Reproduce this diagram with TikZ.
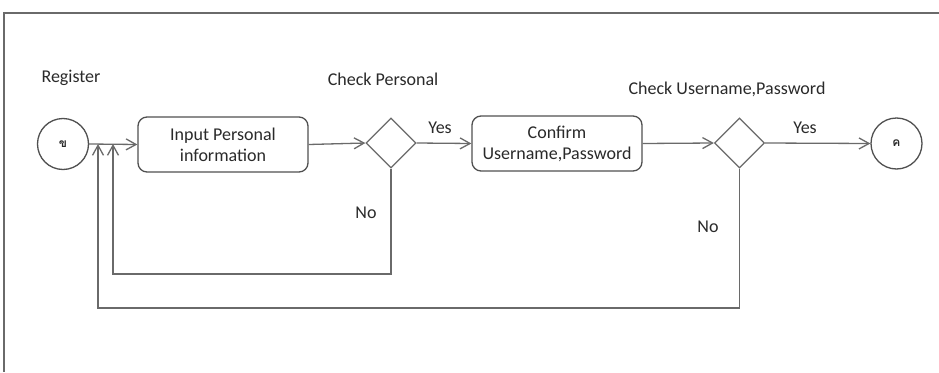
\documentclass[tikz,border=0pt]{standalone}
\usepackage{fontspec}
\setmainfont{Carlito}
\newfontfamily\thaifont[Script=Thai]{Loma}
\usetikzlibrary{shapes.geometric,arrows.meta}
\definecolor{ln}{HTML}{6A6A6A}
\definecolor{bx}{HTML}{505050}
\definecolor{tx}{HTML}{2A2A2A}
\tikzset{
  lbl/.style={font=\fontsize{18}{21}\selectfont, text=tx, inner sep=0pt},
  conn/.style={circle, draw=bx, line width=1.3pt, minimum size=51pt, inner sep=0pt, font=\thaifont\bfseries\fontsize{12}{13}\selectfont, text=tx},
  actbox/.style={rectangle, rounded corners=9pt, draw=bx, line width=1.3pt, align=center, font=\fontsize{18}{21}\selectfont, text=tx, inner sep=0pt},
  dec/.style={diamond, draw=ln, line width=1.3pt, minimum width=50pt, minimum height=50pt, inner sep=0pt, aspect=1},
  wire/.style={draw=ln, line width=1.3pt},
  arr/.style={wire, -{Straight Barb[length=10pt,width=11pt,line width=1.3pt]}}
}
\begin{document}
\begin{tikzpicture}[x=1pt,y=-1pt]
\useasboundingbox (0,0) rectangle (939,372);
\fill[white] (0,0) rectangle (939,372);
% frame
\draw[draw=ln, line width=1.3pt] (939,13) -- (4,13) -- (4,372);
% nodes
\node[conn] (c1) at (63,144) {ข};
\node[actbox, minimum width=170pt, minimum height=55pt] (b1) at (223,144.5) {Input Personal\\information};
\node[dec] (d1) at (391,143) {};
\node[actbox, minimum width=170pt, minimum height=55pt] (b2) at (557,143.5) {Confirm\\Username,Password};
\node[dec] (d2) at (739.5,143) {};
\node[conn] (c2) at (896.5,143.5) {ค};
% labels
\node[lbl] (l1) at (71,78) {Register};
\node[lbl] (l2) at (383,79) {Check Personal};
\node[lbl] (l3) at (727,89) {Check Username,Password};
\node[lbl] (y1) at (440,128) {Yes};
\node[lbl] (y2) at (805,128) {Yes};
\node[lbl] (n1) at (366,213) {No};
\node[lbl] (n2) at (708,227) {No};
% junctions
\coordinate (j1) at (113,144);
\coordinate (j2) at (98,144);
% connectors
\draw[arr] (c1.east) -- (b1.west);
\draw[arr] (b1.east) -- (d1.west);
\draw[arr] (d1.east) -- (b2.west);
\draw[arr] (b2.east) -- (d2.west);
\draw[arr] (d2.east) -- (c2.west);
\draw[arr] (d1.south) |- (113,274) -- (j1);
\draw[arr] (d2.south) |- (98,308) -- (j2);
\end{tikzpicture}
\end{document}
